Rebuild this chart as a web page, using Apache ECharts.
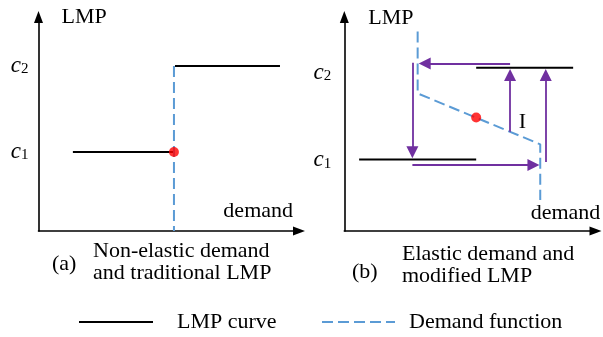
<!DOCTYPE html>
<html><head><meta charset="utf-8">
<script src="https://cdn.jsdelivr.net/npm/echarts@6/dist/echarts.min.js"></script>
<style>html,body{margin:0;padding:0;background:#fff}#c{width:603px;height:337px}</style>
</head><body><div id="c"></div>
<script>
// ---- panel (a): non-elastic demand ----
const aLow = [[13.2, 36.9], [52.0, 36.9]];
const aHigh = [[52.4, 77.1], [92.7, 77.1]];
const aDemand = [[52.0, 77.1], [52.0, 0]];
const aPoint = [[52.0, 36.9]];
const aTicks = [36.9, 77.1];
const aNotes = [[97.7, 9.3]];
const aNoteText = ['demand'];
// ---- panel (b): elastic demand ----
const bLow = [[5.9, 33.4], [52.5, 33.4]];
const bHigh = [[52.5, 76.3], [91.1, 76.3]];
const bDemand = [[29.2, 93.2], [29.2, 64.3], [78.0, 40.5], [78.0, 14.5]];
const bPoint = [[52.5, 53.0]];
const bArrows = [
  [[66.0, 78.3], [32.0, 78.3]],
  [[66.0, 46.4], [66.0, 72.9]],
  [[80.2, 32.2], [80.2, 72.9]],
  [[27.1, 78.6], [27.1, 36.8]],
  [[27.1, 30.8], [75.3, 30.8]]
];
const bTicks = [33.0, 74.0];
const bNotes = [[72.4, 50.9], [101.9, 8.4]];
const bNoteText = ['I', 'demand'];
const tickNames = ['{c|c}{s|1}', '{c|c}{s|2}'];
const captions = ['(a)', 'Non-elastic demand\nand traditional LMP', '(b)', 'Elastic demand and\nmodified LMP'];
const legendNames = ['LMP curve', 'Demand function'];

const FONT = 'Liberation Serif';
const BLACK = '#000000', BLUE = '#5B9BD5', PURPLE = '#7030A0';
const txt = {fontFamily: FONT, fontSize: 22, color: BLACK, fontWeight: 'normal'};
const rich = {
  c: {fontFamily: FONT, fontStyle: 'italic', fontSize: 23, lineHeight: 22, color: BLACK},
  s: {fontFamily: FONT, fontSize: 15, lineHeight: 12, verticalAlign: 'bottom', color: BLACK}
};

function xAx(grid) {
  return {
    gridIndex: grid, type: 'value', min: 0, max: 100,
    axisLine: {show: true, symbol: ['none', 'triangle'], symbolSize: [9, 12], lineStyle: {color: BLACK, width: 1.6}},
    axisTick: {show: false}, axisLabel: {show: false}, splitLine: {show: false}
  };
}
function yAx(grid, ticks, gap, padL, margin) {
  return {
    gridIndex: grid, type: 'value', min: 0, max: 100,
    axisLine: {show: true, symbol: ['none', 'triangle'], symbolSize: [9, 12], lineStyle: {color: BLACK, width: 1.6}},
    axisTick: {show: false}, splitLine: {show: false},
    axisLabel: {show: true, customValues: ticks, margin: margin, rich: rich,
      formatter: function (v) { return tickNames[ticks.indexOf(v)] || ''; }},
    name: 'LMP', nameLocation: 'end', nameGap: gap,
    nameTextStyle: Object.assign({}, txt, {align: 'left', verticalAlign: 'middle', padding: [0, 0, 0, padL]})
  };
}
function seg(name, data, g, style) {
  return {type: 'line', name: name, data: data, xAxisIndex: g, yAxisIndex: g, symbol: 'none',
    lineStyle: style, itemStyle: {color: style.color}, silent: true, z: 2};
}
function notes(data, texts, g) {
  return {type: 'scatter', xAxisIndex: g, yAxisIndex: g, symbolSize: 0.01, clip: false,
    itemStyle: {color: '#ffffff', opacity: 1}, silent: true, z: 6,
    data: data.map(function (d) { return {value: d}; }),
    label: {show: true, position: [0, 0], align: 'right', verticalAlign: 'middle',
      formatter: function (p) { return texts[p.dataIndex]; },
      fontFamily: FONT, fontSize: 22, color: BLACK, opacity: 1, textBorderWidth: 0}};
}
const solid = {color: BLACK, width: 2};
const dashed = {color: BLUE, width: 2, type: [11, 5]};
const legendItem = {color: 'rgba(0,0,0,0)', borderWidth: 0, opacity: 0};

const chart = echarts.init(document.getElementById('c'), null, {renderer: 'canvas'});
chart.setOption({
  animation: false,
  backgroundColor: '#ffffff',
  title: [
    {text: captions[0], left: 52, top: 253, padding: 0, textStyle: Object.assign({lineHeight: 22}, txt)},
    {text: captions[1], left: 93, top: 240, padding: 0, textStyle: Object.assign({lineHeight: 22}, txt)},
    {text: captions[2], left: 352, top: 261, padding: 0, textStyle: Object.assign({lineHeight: 22}, txt)},
    {text: captions[3], left: 402, top: 243, padding: 0, textStyle: Object.assign({lineHeight: 22}, txt)}
  ],
  legend: [
    {data: [legendNames[0]], left: 78, top: 311, padding: 0, itemWidth: 74, itemHeight: 14, selectedMode: false,
      itemStyle: legendItem, textStyle: Object.assign({padding: [0, 0, 0, 19]}, txt)},
    {data: [legendNames[1]], left: 321, top: 311, padding: 0, itemWidth: 73, itemHeight: 14, selectedMode: false,
      itemStyle: legendItem, textStyle: Object.assign({padding: [0, 0, 0, 9]}, txt)}
  ],
  grid: [
    {left: 38.5, top: 17, width: 260.5, height: 214, containLabel: false, outerBoundsMode: 'none'},
    {left: 344.3, top: 17, width: 251.2, height: 214, containLabel: false, outerBoundsMode: 'none'}
  ],
  xAxis: [xAx(0), xAx(1)],
  yAxis: [yAx(0, aTicks, 0, 23, 10), yAx(1, bTicks, -1, 24, 13)],
  series: [
    seg(legendNames[0], aLow, 0, solid),
    seg(legendNames[0], aHigh, 0, solid),
    seg(legendNames[1], aDemand, 0, dashed),
    {type: 'scatter', data: aPoint, xAxisIndex: 0, yAxisIndex: 0, symbolSize: 10, itemStyle: {color: '#FF0000'}, z: 5, silent: true},
    notes(aNotes, aNoteText, 0),
    seg(legendNames[0], bLow, 1, solid),
    seg(legendNames[0], bHigh, 1, solid),
    seg(legendNames[1], bDemand, 1, dashed),
    {type: 'lines', coordinateSystem: 'cartesian2d', xAxisIndex: 1, yAxisIndex: 1,
      data: bArrows.map(function (c) { return {coords: c}; }),
      symbol: ['none', 'triangle'], symbolSize: [9, 12],
      lineStyle: {color: PURPLE, width: 1.8, opacity: 1}, z: 3, silent: true},
    {type: 'scatter', data: bPoint, xAxisIndex: 1, yAxisIndex: 1, symbolSize: 10, itemStyle: {color: '#FF0000'}, z: 5, silent: true},
    notes(bNotes, bNoteText, 1)
  ]
});
</script></body></html>
